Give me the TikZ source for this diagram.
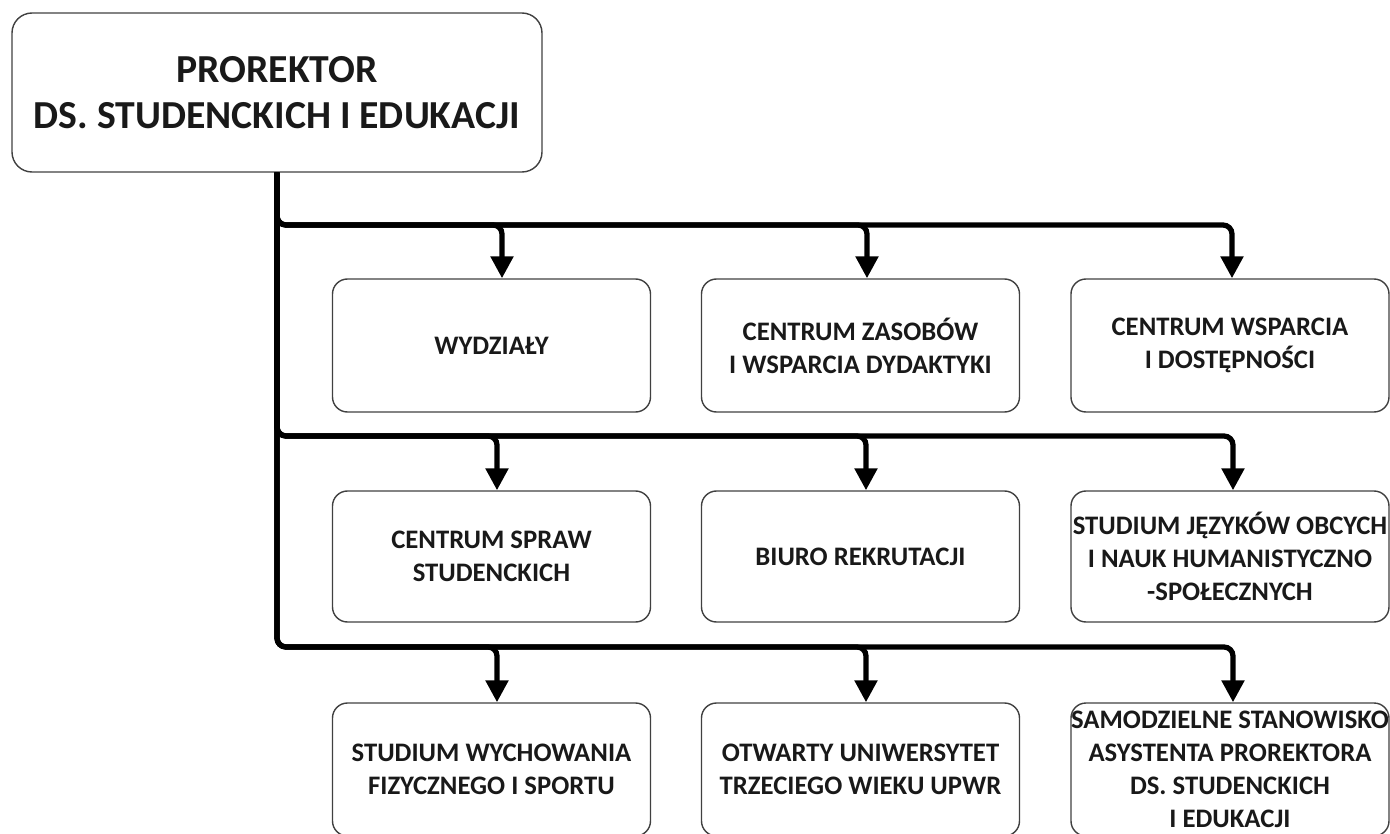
\documentclass[tikz,border=0pt]{standalone}
\usepackage{fontspec}
\setmainfont{Carlito}
\usetikzlibrary{arrows.meta}

\begin{document}
\begin{tikzpicture}[font=\bfseries,
	unit/.style={draw=black!75, line width=0.4pt, rounded corners=0.15cm, minimum width=3.18cm, minimum height=1.33cm, align=center, inner sep=0pt, text=black!90, font=\fontsize{7.6pt}{9.4pt}\selectfont\bfseries},
	link/.style={line width=1.5pt, rounded corners=0.09cm, -{Triangle[width=0.22cm,length=0.22cm]}}]
	\useasboundingbox (0,0) rectangle (13.9,-8.34);
	\node[draw=black!75, line width=0.4pt, rounded corners=0.2cm, minimum width=5.3cm, minimum height=1.59cm, align=center, text=black!90, font=\fontsize{11.3pt}{13.3pt}\selectfont\bfseries] (pro) at (2.77,-0.925) {PROREKTOR\\DS. STUDENCKICH I EDUKACJI};

	\node[unit] (wy) at (4.915,-3.455) {WYDZIAŁY};
	\node[unit] (cz) at (8.605,-3.455) {CENTRUM ZASOBÓW\\I WSPARCIA DYDAKTYKI};
	\node[unit] (cw) at (12.30,-3.455) {CENTRUM WSPARCIA\\I DOSTĘPNOŚCI};

	\node[unit, minimum height=1.31cm] (css) at (4.915,-5.565) {CENTRUM SPRAW\\STUDENCKICH};
	\node[unit, minimum height=1.31cm] (br) at (8.605,-5.565) {BIURO REKRUTACJI};
	\node[unit, minimum height=1.31cm] (sjo) at (12.30,-5.565) {STUDIUM JĘZYKÓW OBCYCH\\I NAUK HUMANISTYCZNO\\-SPOŁECZNYCH};

	\node[unit] (swf) at (4.915,-7.695) {STUDIUM WYCHOWANIA\\FIZYCZNEGO I SPORTU};
	\node[unit] (outw) at (8.605,-7.695) {OTWARTY UNIWERSYTET\\TRZECIEGO WIEKU UPWR};
	\node[unit] (ssa) at (12.30,-7.695) {SAMODZIELNE STANOWISKO\\ASYSTENTA PROREKTORA\\DS. STUDENCKICH\\I EDUKACJI};

	% bus points
	\coordinate (b1) at (5.02,-2.25);
	\coordinate (b2) at (8.67,-2.25);
	\coordinate (b3) at (12.32,-2.25);
	\coordinate (b4) at (4.97,-4.36);
	\coordinate (b5) at (8.66,-4.36);
	\coordinate (b6) at (12.33,-4.36);
	\coordinate (b7) at (4.97,-6.47);
	\coordinate (b8) at (8.66,-6.47);
	\coordinate (b9) at (12.33,-6.47);

	\draw[link] (pro.south) |- (b1) -- (b1 |- wy.north);
	\draw[link] (pro.south) |- (b2) -- (b2 |- cz.north);
	\draw[link] (pro.south) |- (b3) -- (b3 |- cw.north);
	\draw[link] (pro.south) |- (b4) -- (b4 |- css.north);
	\draw[link] (pro.south) |- (b5) -- (b5 |- br.north);
	\draw[link] (pro.south) |- (b6) -- (b6 |- sjo.north);
	\draw[link] (pro.south) |- (b7) -- (b7 |- swf.north);
	\draw[link] (pro.south) |- (b8) -- (b8 |- outw.north);
	\draw[link] (pro.south) |- (b9) -- (b9 |- ssa.north);
\end{tikzpicture}
\end{document}
